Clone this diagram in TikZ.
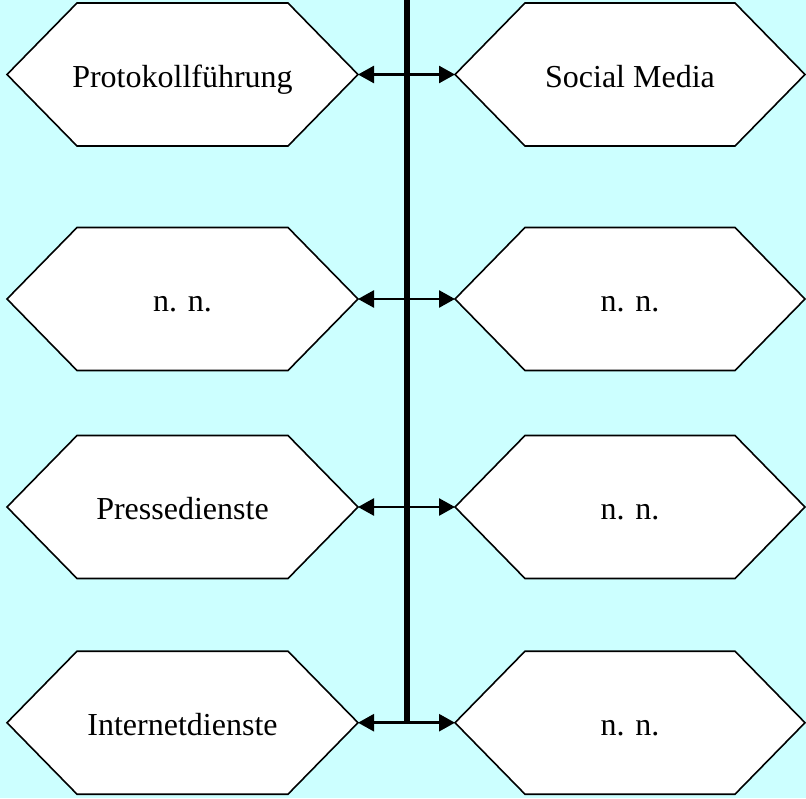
\documentclass[tikz,border=0pt]{standalone}
\usepackage{fontspec}
\setmainfont{Liberation Serif}
\usetikzlibrary{arrows.meta}
\definecolor{bg}{HTML}{CCFFFF}
\begin{document}
\begin{tikzpicture}[x=1pt,y=-1pt,
  hexa/.style={draw=black, line width=1.6pt, fill=white, line join=miter},
  lbl/.style={font=\fontsize{32}{38}\selectfont, inner sep=0pt, anchor=base},
  conn/.style={{Triangle[length=16pt,width=17pt]}-{Triangle[length=16pt,width=17pt]}, line width=2.6pt},
  spine/.style={line width=5.2pt}]
\fill[bg] (0,0) rectangle (806,798);
\useasboundingbox (0,0) rectangle (806,798);
\coordinate (top) at (407,0);
\coordinate (bot) at (407,723.5);
\draw[spine] (top) -- (bot);
\foreach \c/\lt/\rt [count=\i] in {74.5/Protokollführung/Social Media, 299/n. n./n. n., 507/Pressedienste/n. n., 722.7/Internetdienste/n. n.} {
  \draw[hexa] (7,\c) -- (77,\c-71.5) -- (288,\c-71.5) -- (358,\c) -- (288,\c+71.5) -- (77,\c+71.5) -- cycle;
  \draw[hexa] (455,\c) -- (525,\c-71.5) -- (735,\c-71.5) -- (805,\c) -- (735,\c+71.5) -- (525,\c+71.5) -- cycle;
  \coordinate (Le\i) at (358,\c);
  \coordinate (Rw\i) at (455,\c);
  \node[lbl] (L\i) at (182.5,\c+12.5) {\lt};
  \node[lbl] (R\i) at (630,\c+12.5) {\rt};
  \draw[conn] (Le\i) -- (Rw\i);
}
\end{tikzpicture}
\end{document}
